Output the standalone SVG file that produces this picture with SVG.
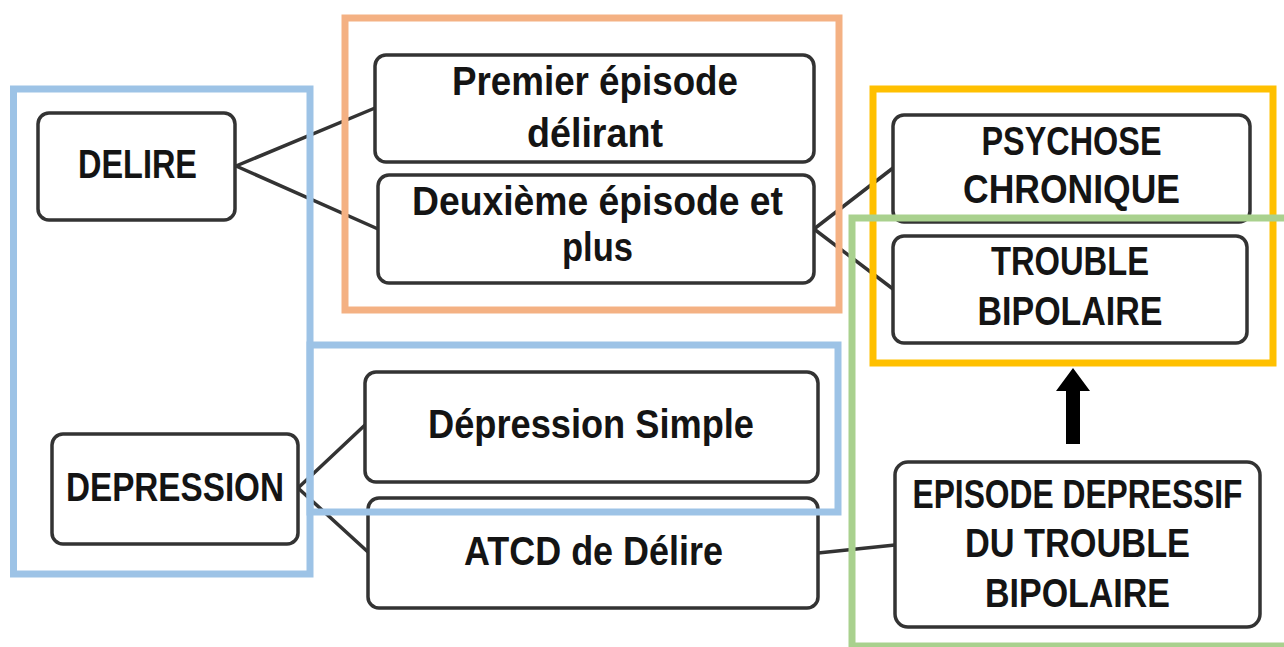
<svg xmlns="http://www.w3.org/2000/svg" width="1284" height="647" viewBox="0 0 1284 647">
<defs>
<style>
.node rect{fill:#fff;stroke:#333;stroke-width:3.5}
.node text{font-family:"Liberation Sans",Arial,sans-serif;font-weight:bold;font-size:40px;fill:#141414;text-anchor:middle}
.conn line{stroke:#333;stroke-width:3.5;stroke-linecap:round}
.frame{fill:none;stroke-width:7}
</style>
</defs>
<rect width="1284" height="647" fill="#fff"/>
<g id="connectors" class="conn">
<line x1="236" y1="166" x2="375" y2="108"/>
<line x1="236" y1="166" x2="378" y2="229"/>
<line x1="814" y1="229" x2="893" y2="168"/>
<line x1="814" y1="229" x2="893" y2="289"/>
<line x1="298" y1="488" x2="365" y2="425"/>
<line x1="298" y1="488" x2="368" y2="552"/>
<line x1="818" y1="553" x2="895" y2="545"/>
<polygon points="1066,444 1080,444 1080,391 1090,391 1073,368 1056,391 1066,391" fill="#000" stroke="none"/>
</g>
<g id="n-delire" class="node"><rect x="38" y="113" width="197" height="107" rx="11"/><text x="137.5" y="178" textLength="119" lengthAdjust="spacingAndGlyphs">DELIRE</text></g>
<g id="n-premier" class="node"><rect x="375" y="55" width="439" height="107" rx="11"/><text x="595" y="95" textLength="286" lengthAdjust="spacingAndGlyphs">Premier épisode</text><text x="595" y="147" textLength="136" lengthAdjust="spacingAndGlyphs">délirant</text></g>
<g id="n-deuxieme" class="node"><rect x="378" y="175" width="436" height="108" rx="11"/><text x="597.5" y="215" textLength="371" lengthAdjust="spacingAndGlyphs">Deuxième épisode et</text><text x="597.5" y="261" textLength="71" lengthAdjust="spacingAndGlyphs">plus</text></g>
<g id="n-psychose" class="node"><rect x="893" y="115" width="357" height="107" rx="11"/><text x="1071.5" y="155" textLength="180" lengthAdjust="spacingAndGlyphs">PSYCHOSE</text><text x="1071.5" y="203" textLength="217" lengthAdjust="spacingAndGlyphs">CHRONIQUE</text></g>
<g id="n-trouble" class="node"><rect x="893" y="236" width="354" height="107" rx="11"/><text x="1070" y="275" textLength="158" lengthAdjust="spacingAndGlyphs">TROUBLE</text><text x="1070" y="325" textLength="185" lengthAdjust="spacingAndGlyphs">BIPOLAIRE</text></g>
<g id="n-depression" class="node"><rect x="52" y="434" width="246" height="110" rx="11"/><text x="175" y="501" textLength="218" lengthAdjust="spacingAndGlyphs">DEPRESSION</text></g>
<g id="n-depsimple" class="node"><rect x="365" y="372" width="453" height="110" rx="11"/><text x="591" y="438" textLength="326" lengthAdjust="spacingAndGlyphs">Dépression Simple</text></g>
<g id="n-atcd" class="node"><rect x="368" y="498" width="450" height="110" rx="11"/><text x="593.5" y="565" textLength="259" lengthAdjust="spacingAndGlyphs">ATCD de Délire</text></g>
<g id="n-episode" class="node"><rect x="895" y="462" width="365" height="165" rx="13"/><text x="1077.5" y="508" font-size="38" textLength="330" lengthAdjust="spacingAndGlyphs">EPISODE DEPRESSIF</text><text x="1077.5" y="557" textLength="225" lengthAdjust="spacingAndGlyphs">DU TROUBLE</text><text x="1077.5" y="607" textLength="185" lengthAdjust="spacingAndGlyphs">BIPOLAIRE</text></g>
<g id="frames">
<rect class="frame" x="13.5" y="89" width="296.5" height="485" stroke="#9DC3E6"/>
<rect class="frame" x="345" y="18" width="494" height="292" stroke="#F4B183"/>
<rect class="frame" x="310" y="345" width="528" height="167" stroke="#9DC3E6"/>
<rect class="frame" x="873" y="89" width="400" height="274" stroke="#FFC000"/>
<rect class="frame" x="852" y="218" width="440" height="428" stroke="#A9D18E"/>
</g>
</svg>
